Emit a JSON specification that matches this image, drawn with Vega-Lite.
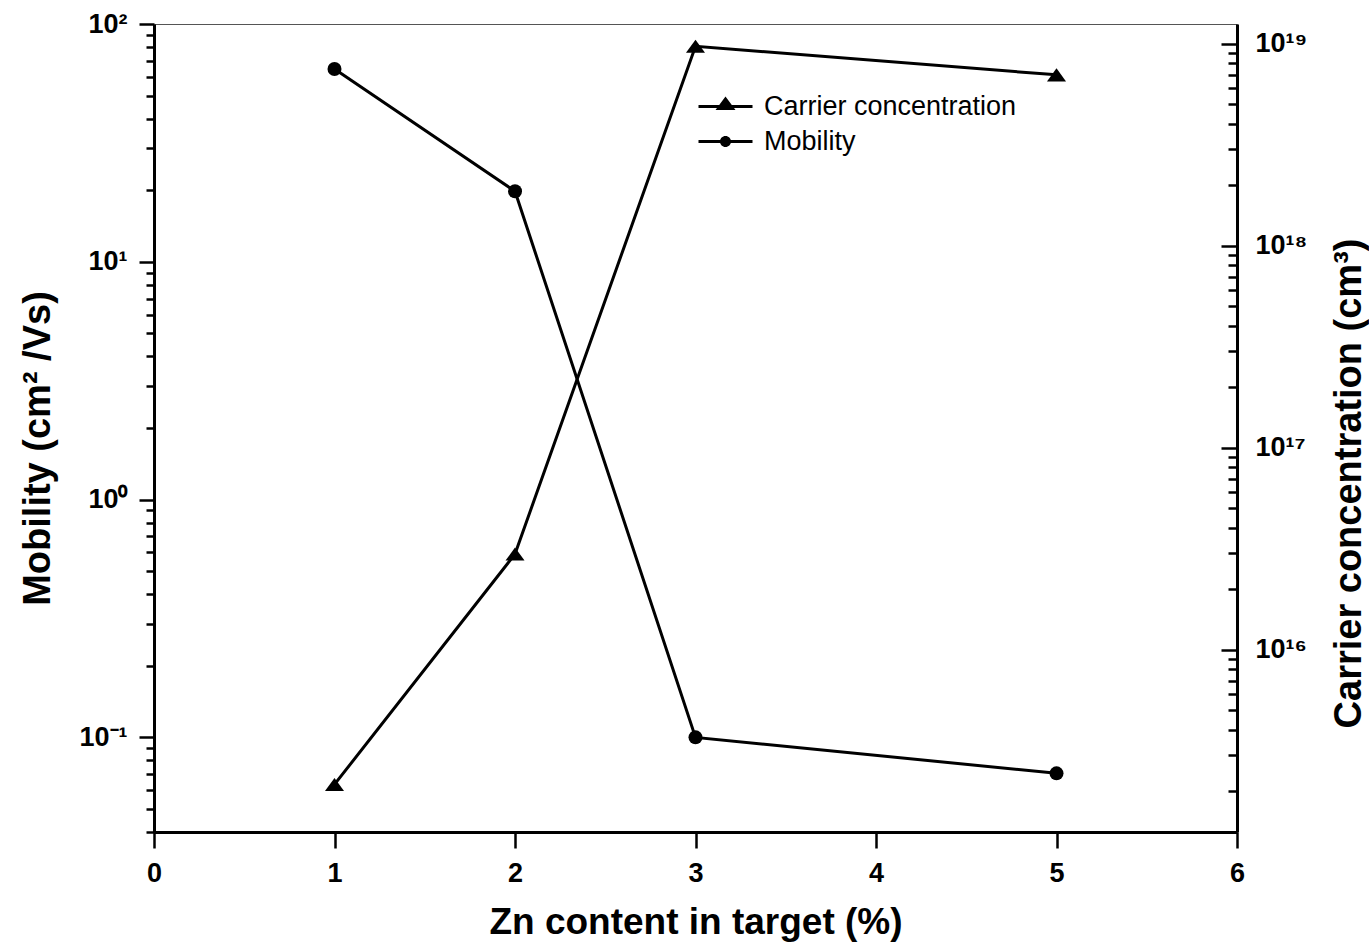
{
  "$schema": "https://vega.github.io/schema/vega-lite/v6.json",
  "width": 1083,
  "height": 808,
  "autosize": {"type": "none"},
  "padding": {"left": 154, "top": 24, "right": 132, "bottom": 110},
  "background": "white",
  "config": {
    "font": "Liberation Sans",
    "view": {"stroke": "#555555", "strokeWidth": 1},
    "axis": {
      "grid": false,
      "domainColor": "black",
      "domainWidth": 3,
      "tickColor": "black",
      "tickWidth": 2.5,
      "labelColor": "black",
      "titleColor": "black",
      "labelFont": "Liberation Sans",
      "titleFont": "Liberation Sans",
      "labelFontWeight": "bold",
      "titleFontWeight": "bold",
      "labelFontSize": 27,
      "labelOverlap": false,
      "labelBound": false,
      "labelFlush": false
    }
  },
  "data": {
    "values": [
      {"zn": 1, "series": "Mobility", "value": 64.7},
      {"zn": 2, "series": "Mobility", "value": 19.8},
      {"zn": 3, "series": "Mobility", "value": 0.1},
      {"zn": 5, "series": "Mobility", "value": 0.0706},
      {"zn": 1, "series": "Carrier concentration", "value": 2.15e15},
      {"zn": 2, "series": "Carrier concentration", "value": 2.97e16},
      {"zn": 3, "series": "Carrier concentration", "value": 9.7e18},
      {"zn": 5, "series": "Carrier concentration", "value": 7.0e18}
    ]
  },
  "encoding": {
    "x": {
      "field": "zn",
      "type": "quantitative",
      "scale": {"domain": [0, 6], "nice": false, "zero": false},
      "axis": {
        "values": [0, 0.5, 1, 1.5, 2, 2.5, 3, 3.5, 4, 4.5, 5, 5.5, 6],
        "format": "d",
        "labelExpr": "datum.value % 1 == 0 ? datum.label : ''",
        "tickSize": {"condition": {"test": "datum.value % 1 != 0", "value": 8}, "value": 16},
        "labelPadding": 12,
        "title": "Zn content in target (%)",
        "titleFontSize": 37,
        "titleBaseline": "top",
        "titleY": 72
      }
    }
  },
  "layer": [
    {
      "transform": [{"filter": "datum.series === 'Mobility'"}],
      "encoding": {
        "y": {
          "field": "value",
          "type": "quantitative",
          "scale": {"type": "log", "domain": [0.04, 100], "nice": false},
          "axis": {
            "orient": "left",
            "values": [0.04, 0.05, 0.06, 0.07, 0.08, 0.09, 0.1, 0.2, 0.3, 0.4, 0.5, 0.6, 0.7, 0.8, 0.9, 1, 2, 3, 4, 5, 6, 7, 8, 9, 10, 20, 30, 40, 50, 60, 70, 80, 90, 100],
            "labelExpr": "datum.value == 100 ? '10²' : datum.value == 10 ? '10¹' : datum.value == 1 ? '10⁰' : datum.value == 0.1 ? '10⁻¹' : ''",
            "tickSize": {"condition": {"test": "indexof([0.1, 1, 10, 100], datum.value) >= 0", "value": 15}, "value": 8},
            "labelPadding": 12,
            "title": "Mobility (cm² /Vs)",
            "titleFontSize": 38,
            "titleAngle": -90,
            "titleBaseline": "top",
            "titleAlign": "center",
            "titleX": -135,
            "titleY": 424
          }
        }
      },
      "layer": [
        {"mark": {"type": "line", "color": "black", "strokeWidth": 3}},
        {"mark": {"type": "point", "filled": true, "opacity": 1, "color": "black", "size": 196, "shape": "circle"}},
        {
          "mark": {"type": "point", "filled": true, "opacity": 0, "color": "black", "size": 400},
          "encoding": {
            "shape": {
              "field": "series",
              "type": "nominal",
              "scale": {
                "domain": ["Carrier concentration", "Mobility"],
                "range": [
                  "M-2.7,-0.15L2.7,-0.15L2.7,0.15L-2.7,0.15ZM0,-1.0L1.0,0.35L-1.0,0.35Z",
                  "M-2.7,-0.15L2.7,-0.15L2.7,0.15L-2.7,0.15ZM-0.55,0A0.55,0.55,0,1,1,0.55,0A0.55,0.55,0,1,1,-0.55,0Z"
                ]
              },
              "legend": {
                "orient": "none",
                "legendX": 558,
                "legendY": 69,
                "title": null,
                "labelFont": "Liberation Sans",
                "labelFontSize": 27,
                "labelColor": "black",
                "labelLimit": 500,
                "labelOffset": 25,
                "symbolSize": 400,
                "symbolOpacity": 1,
                "symbolFillColor": "black",
                "symbolStrokeWidth": 0,
                "rowPadding": 7
              }
            }
          }
        }
      ]
    },
    {
      "transform": [{"filter": "datum.series === 'Carrier concentration'"}],
      "encoding": {
        "y": {
          "field": "value",
          "type": "quantitative",
          "scale": {"type": "log", "domain": [1.25e15, 1.25e19], "nice": false},
          "axis": {
            "orient": "right",
            "values": [2e15, 3e15, 4e15, 5e15, 6e15, 7e15, 8e15, 9e15, 1e16, 2e16, 3e16, 4e16, 5e16, 6e16, 7e16, 8e16, 9e16, 1e17, 2e17, 3e17, 4e17, 5e17, 6e17, 7e17, 8e17, 9e17, 1e18, 2e18, 3e18, 4e18, 5e18, 6e18, 7e18, 8e18, 9e18, 1e19],
            "labelExpr": "datum.value == 1e19 ? '10¹⁹' : datum.value == 1e18 ? '10¹⁸' : datum.value == 1e17 ? '10¹⁷' : datum.value == 1e16 ? '10¹⁶' : ''",
            "tickSize": {"condition": {"test": "indexof([1e16, 1e17, 1e18, 1e19], datum.value) >= 0", "value": -16}, "value": -9},
            "labelPadding": 34,
            "title": "Carrier concentration (cm³)",
            "titleFontSize": 38,
            "titleAngle": -90,
            "titleBaseline": "top",
            "titleAlign": "center",
            "titleX": 93,
            "titleY": 459
          }
        }
      },
      "layer": [
        {"mark": {"type": "line", "color": "black", "strokeWidth": 3}},
        {"mark": {"type": "point", "filled": true, "opacity": 1, "color": "black", "size": 196, "shape": "M0,-0.93L1.36,0.93L-1.36,0.93Z"}},
        {
          "mark": {"type": "point", "filled": true, "opacity": 0, "color": "black", "size": 400},
          "encoding": {
            "shape": {
              "field": "series",
              "type": "nominal",
              "scale": {
                "domain": ["Carrier concentration", "Mobility"],
                "range": [
                  "M-2.7,-0.15L2.7,-0.15L2.7,0.15L-2.7,0.15ZM0,-1.0L1.0,0.35L-1.0,0.35Z",
                  "M-2.7,-0.15L2.7,-0.15L2.7,0.15L-2.7,0.15ZM-0.55,0A0.55,0.55,0,1,1,0.55,0A0.55,0.55,0,1,1,-0.55,0Z"
                ]
              }
            }
          }
        }
      ]
    }
  ],
  "resolve": {"scale": {"y": "independent"}}
}
